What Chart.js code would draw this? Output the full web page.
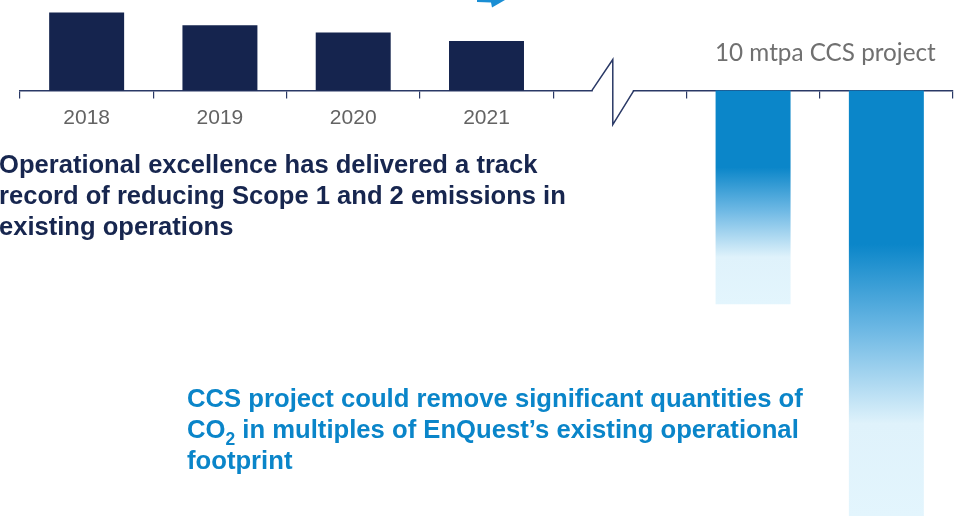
<!DOCTYPE html>
<html>
<head>
<meta charset="utf-8">
<script src="https://cdn.jsdelivr.net/npm/chart.js@4"></script>
<style>
  html, body { margin: 0; padding: 0; background: #fff; }
  #wrap { width: 957px; height: 516px; position: relative; }
</style>
</head>
<body>
<div id="wrap"><canvas id="chart"></canvas></div>
<script>
// categories and values
const years = ['2018', '2019', '2020', '2021'];
const emissions = [1.83, 1.53, 1.36, 1.16];   // Scope 1 and 2, mtpa
const ccsLabels = ['', ''];
const ccsValues = [-5, -10];                   // CCS project, drawn downwards

const labels = years.concat([''], ccsLabels);
const values = emissions.concat([null], ccsValues);

const navy = '#15244e';
const ccsBlue = '#0b86c9';
const axisColor = '#2a3966';

function ccsGradient(context) {
  const chart = context.chart;
  const y = chart.scales.y;
  if (!y || context.raw == null) return ccsBlue;
  const top = y.getPixelForValue(0);
  const bottom = y.getPixelForValue(context.raw);
  const g = chart.ctx.createLinearGradient(0, top, 0, bottom);
  g.addColorStop(0, ccsBlue);
  g.addColorStop(0.36, ccsBlue);
  g.addColorStop(0.56, '#6db8e4');
  g.addColorStop(0.78, '#dff2fb');
  g.addColorStop(1, '#e3f5fd');
  return g;
}

function fitSize(ctx, text, weight, family, width) {
  ctx.font = weight + ' 20px ' + family;
  return 20 * width / ctx.measureText(text).width;
}

// axis break, arrow tip and the text blocks
const extras = {
  id: 'extras',
  afterDraw(chart) {
    const ctx = chart.ctx;
    const x = chart.scales.x;
    const y = chart.scales.y;
    const y0 = y.getPixelForValue(0);
    const xc = x.getPixelForValue(4) - 7;

    ctx.save();
    // break in the axis
    ctx.fillStyle = '#fff';
    ctx.fillRect(xc - 20, y0 - 3, 40, 6);
    ctx.strokeStyle = axisColor;
    ctx.lineWidth = 1.5;
    ctx.beginPath();
    ctx.moveTo(xc - 21, y0);
    ctx.lineTo(xc, y0 - 31);
    ctx.lineTo(xc, y0 + 34);
    ctx.lineTo(xc + 21, y0);
    ctx.stroke();

    // bit of arrow at the top edge
    ctx.fillStyle = '#1a8ed4';
    ctx.beginPath();
    ctx.moveTo(477, 0);
    ctx.lineTo(505, 0);
    ctx.lineTo(492, 7.5);
    ctx.lineTo(491, 2.5);
    ctx.lineTo(477, 2);
    ctx.closePath();
    ctx.fill();

    // CCS label
    const lato = 'Lato, "Open Sans", sans-serif';
    let s = fitSize(ctx, '10 mtpa CCS project', '400', lato, 221);
    ctx.font = '400 ' + s + 'px ' + lato;
    ctx.fillStyle = '#707070';
    ctx.textBaseline = 'alphabetic';
    ctx.textAlign = 'left';
    ctx.fillText('10 mtpa CCS project', 715, 61);

    // left text
    const arial = '"Liberation Sans", Arial, sans-serif';
    const left = ['Operational excellence has delivered a track',
                  'record of reducing Scope 1 and 2 emissions in',
                  'existing operations'];
    s = fitSize(ctx, left[1], 'bold', arial, 567);
    ctx.font = 'bold ' + s + 'px ' + arial;
    ctx.fillStyle = '#17264f';
    left.forEach((t, i) => ctx.fillText(t, -1, 173 + i * 31));

    // blue text
    const l1 = 'CCS project could remove significant quantities of';
    s = fitSize(ctx, l1, 'bold', arial, 616);
    const big = 'bold ' + s + 'px ' + arial;
    const small = 'bold ' + (s * 0.68) + 'px ' + arial;
    ctx.fillStyle = '#0a85c9';
    ctx.font = big;
    ctx.fillText(l1, 187, 407);
    ctx.fillText('CO', 187, 438);
    let cx = 187 + ctx.measureText('CO').width;
    ctx.font = small;
    ctx.fillText('2', cx, 445);
    cx += ctx.measureText('2').width;
    ctx.font = big;
    ctx.fillText(' in multiples of EnQuest\u2019s existing operational', cx, 438);
    ctx.fillText('footprint', 187, 469);
    ctx.restore();
  }
};

const ctx = document.getElementById('chart').getContext('2d');

new Chart(ctx, {
  type: 'bar',
  data: {
    labels: labels,
    datasets: [{
      data: values,
      backgroundColor: c => c.dataIndex < years.length ? navy : ccsGradient(c),
      borderWidth: 0,
      barPercentage: 0.5625,
      categoryPercentage: 1
    }]
  },
  options: {
    responsive: true,
    maintainAspectRatio: false,
    animation: false,
    layout: { padding: { left: 20, right: 4, top: 0, bottom: 0 } },
    plugins: {
      legend: { display: false },
      tooltip: { enabled: false }
    },
    scales: {
      x: {
        position: { y: 0 },
        offset: true,
        z: 1,
        grid: {
          offset: true,
          drawOnChartArea: false,
          drawTicks: true,
          tickLength: 7,
          color: axisColor,
          lineWidth: 1.2
        },
        border: { color: axisColor, width: 1.5 },
        ticks: {
          color: '#636363',
          font: { family: '"Liberation Sans", Arial, sans-serif', size: 21 },
          padding: 8,
          maxRotation: 0,
          autoSkip: false
        }
      },
      y: {
        display: false,
        min: -9.96,
        max: 2.12
      }
    }
  },
  plugins: [extras]
});
</script>
</body>
</html>
